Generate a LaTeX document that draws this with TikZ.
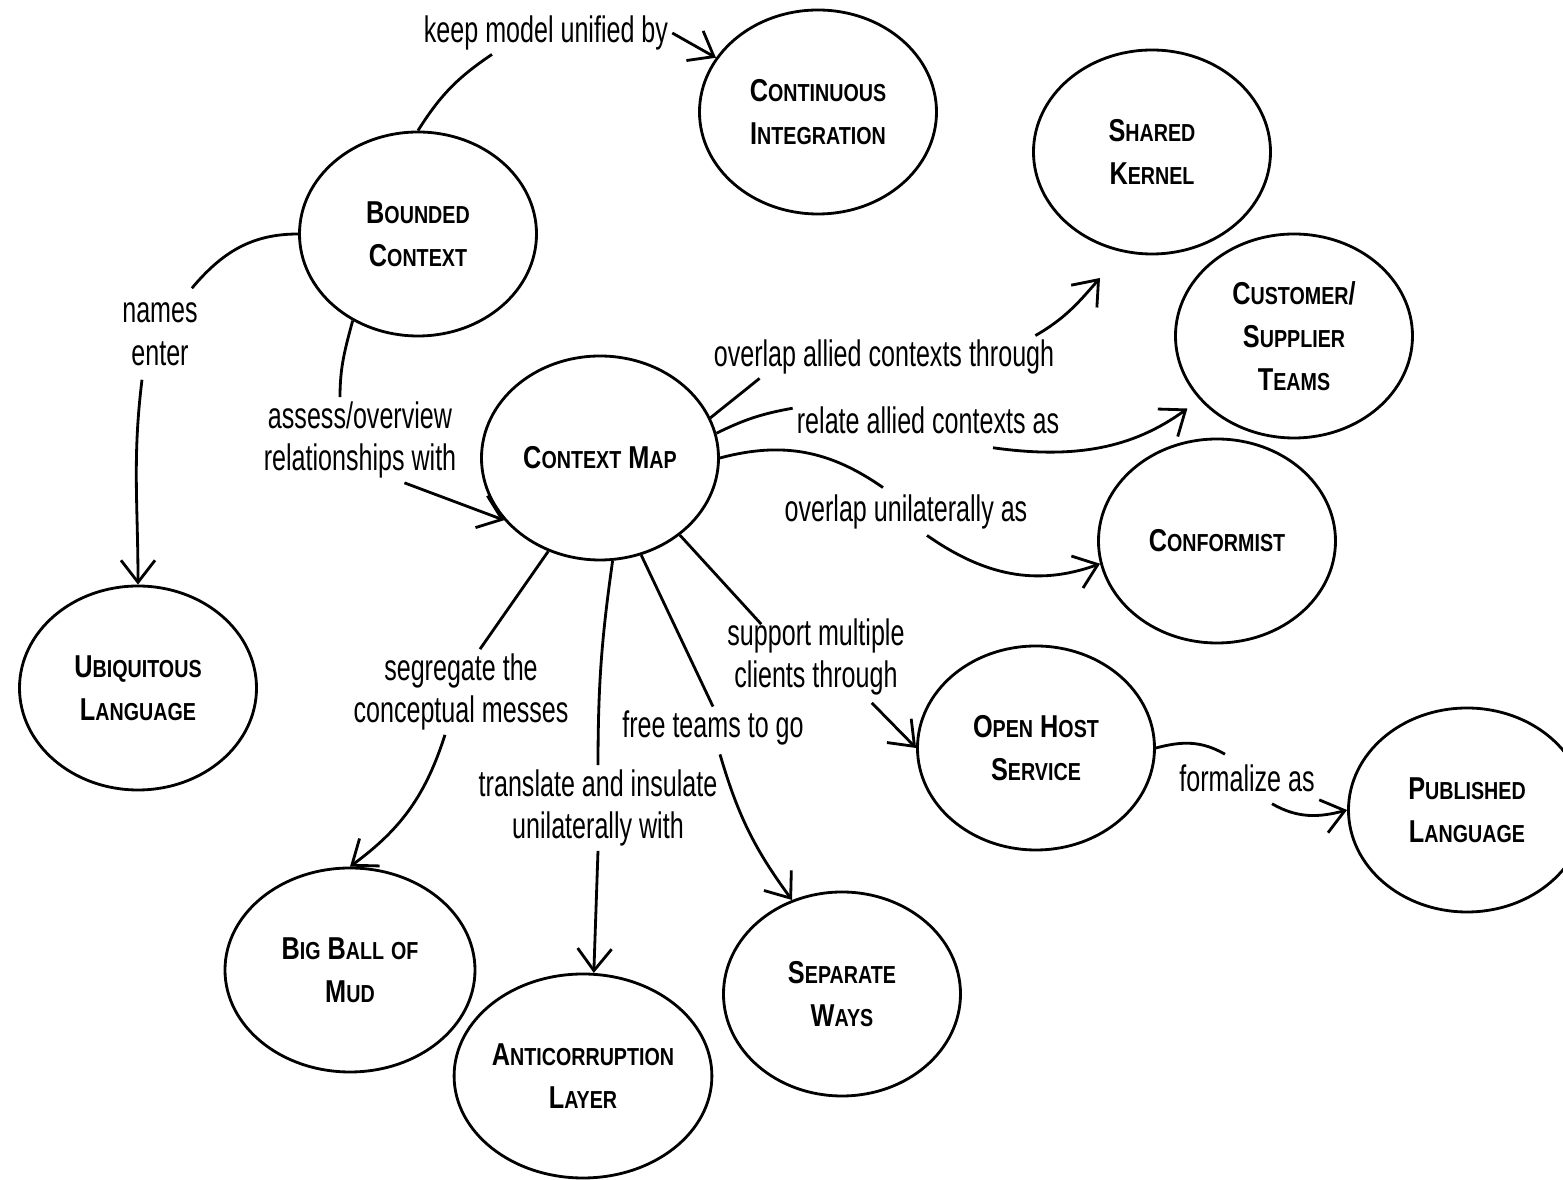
\documentclass[tikz,border=0pt]{standalone}
\usepackage{fontspec}
\setmainfont{Liberation Sans}[FakeStretch=0.68]
\newfontfamily\capfont{Liberation Sans}[FakeStretch=0.8]
\usetikzlibrary{shapes.geometric,arrows.meta}
\newcommand{\sm}[1]{{\fontsize{7}{12.2}\selectfont #1}}
\tikzset{ctx/.style = {draw, thick, ellipse, minimum width=2.37cm, minimum height=2.04cm, inner sep=0pt, align=center, font=\capfont\bfseries\fontsize{9}{12.2}\selectfont},
         wctx/.style={ctx, minimum width=2.5cm},
         rel/.style= {align=center, inner sep=1pt, font=\fontsize{10.5}{12.2}\selectfont},
         link/.style={thick, ->}}
\begin{document}
\begin{tikzpicture}[>={Straight Barb[length=2.2mm,width=3.4mm]}]
        \useasboundingbox(0,0)rectangle(15.63,11.80);
        \node[ctx](ci)at(8.18,10.68){C\sm{ONTINUOUS}\\I\sm{NTEGRATION}};
        \node[ctx](sk)at(11.52,10.28){S\sm{HARED}\\K\sm{ERNEL}};
        \node[ctx](bc)at(4.18,9.46){B\sm{OUNDED}\\C\sm{ONTEXT}};
        \node[ctx](cst)at(12.94,8.44){C\sm{USTOMER}/\\S\sm{UPPLIER}\\T\sm{EAMS}};
        \node[ctx](cm)at(6.00,7.22){C\sm{ONTEXT} M\sm{AP}};
        \node[ctx](cf)at(12.17,6.39){C\sm{ONFORMIST}};
        \node[ctx](ul)at(1.38,4.92){U\sm{BIQUITOUS}\\L\sm{ANGUAGE}};
        \node[ctx](ohs)at(10.36,4.32){O\sm{PEN} H\sm{OST}\\S\sm{ERVICE}};
        \node[ctx](pl)at(14.67,3.70){P\sm{UBLISHED}\\L\sm{ANGUAGE}};
        \node[wctx](bbm)at(3.50,2.10){B\sm{IG} B\sm{ALL} \sm{OF}\\M\sm{UD}};
        \node[wctx](acl)at(5.83,1.04){A\sm{NTICORRUPTION}\\L\sm{AYER}};
        \node[ctx](sw)at(8.42,1.86){S\sm{EPARATE}\\W\sm{AYS}};

        \node[rel](l1)at(5.46,11.47){keep model unified by};
        \node[rel](l2)at(1.60,8.46){names\\enter};
        \node[rel](l3)at(3.60,7.40){assess/overview\\relationships with};
        \node[rel](l4)at(8.84,8.23){overlap allied contexts through};
        \node[rel](l5)at(9.28,7.60){relate allied contexts as};
        \node[rel](l6)at(9.06,6.68){overlap unilaterally as};
        \node[rel](l7)at(8.16,5.23){support multiple\\clients through};
        \node[rel](l8)at(7.13,4.52){free teams to go};
        \node[rel](l9)at(5.98,3.72){translate and insulate\\unilaterally with};
        \node[rel](l10)at(4.61,4.88){segregate the\\conceptual messes};
        \node[rel](l11)at(12.47,4.02){formalize as};
        \coordinate(skin)at(11.00,9.02);

        \draw[thick](bc.north)to[bend left=12]([xshift=-5.4mm]l1.south);
        \draw[link](l1.east)--(ci.152);
        \draw[thick](bc.west)to[out=180,in=50]([xshift=-1mm,yshift=1mm]l2.north east);
        \draw[link]([xshift=-1.8mm,yshift=-1mm]l2.south)to[out=-97,in=90](ul.north);
        \draw[thick](bc.233)to[out=-105,in=90]([xshift=-2mm]l3.north);
        \draw[link]([xshift=-5.6mm]l3.south east)--(cm.213);
        \draw[thick](cm.20)--([xshift=5mm]l4.south west);
        \draw[link]([xshift=-2.3mm]l4.north east)to[out=30,in=-131](skin);
        \draw[thick](cm.12)to[bend left=8]([yshift=-0.6mm]l5.north west);
        \draw[link,shorten >=1.5mm]([xshift=6.5mm,yshift=-1mm]l5.south)to[out=-8,in=216](cst.214);
        \draw[thick](cm.east)to[out=15,in=145]([xshift=-2.3mm,yshift=0.3mm]l6.north);
        \draw[link]([xshift=2.1mm,yshift=-0.2mm]l6.south)to[out=-35,in=200](cf.191);
        \draw[thick](cm.-44)--([xshift=3.8mm,yshift=-1mm]l7.north west);
        \draw[link]([xshift=-3.7mm,yshift=-0.3mm]l7.south east)--(ohs.west);
        \draw[thick](cm.-67)--(l8.north);
        \draw[link]([xshift=0.7mm,yshift=-0.5mm]l8.south)to[bend right=10](sw.118);
        \draw[thick](cm.-83)to[bend right=4](l9.north);
        \draw[link](l9.south)--(acl.84);
        \draw[thick](cm.-119)--([xshift=1.9mm]l10.north);
        \draw[link]([xshift=-1.6mm]l10.south)to[bend left=18](bbm.north);
        \draw[thick](ohs.east)to[out=15,in=150]([xshift=-2.2mm,yshift=0.6mm]l11.north);
        \draw[link]([xshift=2.5mm,yshift=-0.8mm]l11.south)to[out=-30,in=195](pl.west);
    \end{tikzpicture}
\end{document}
